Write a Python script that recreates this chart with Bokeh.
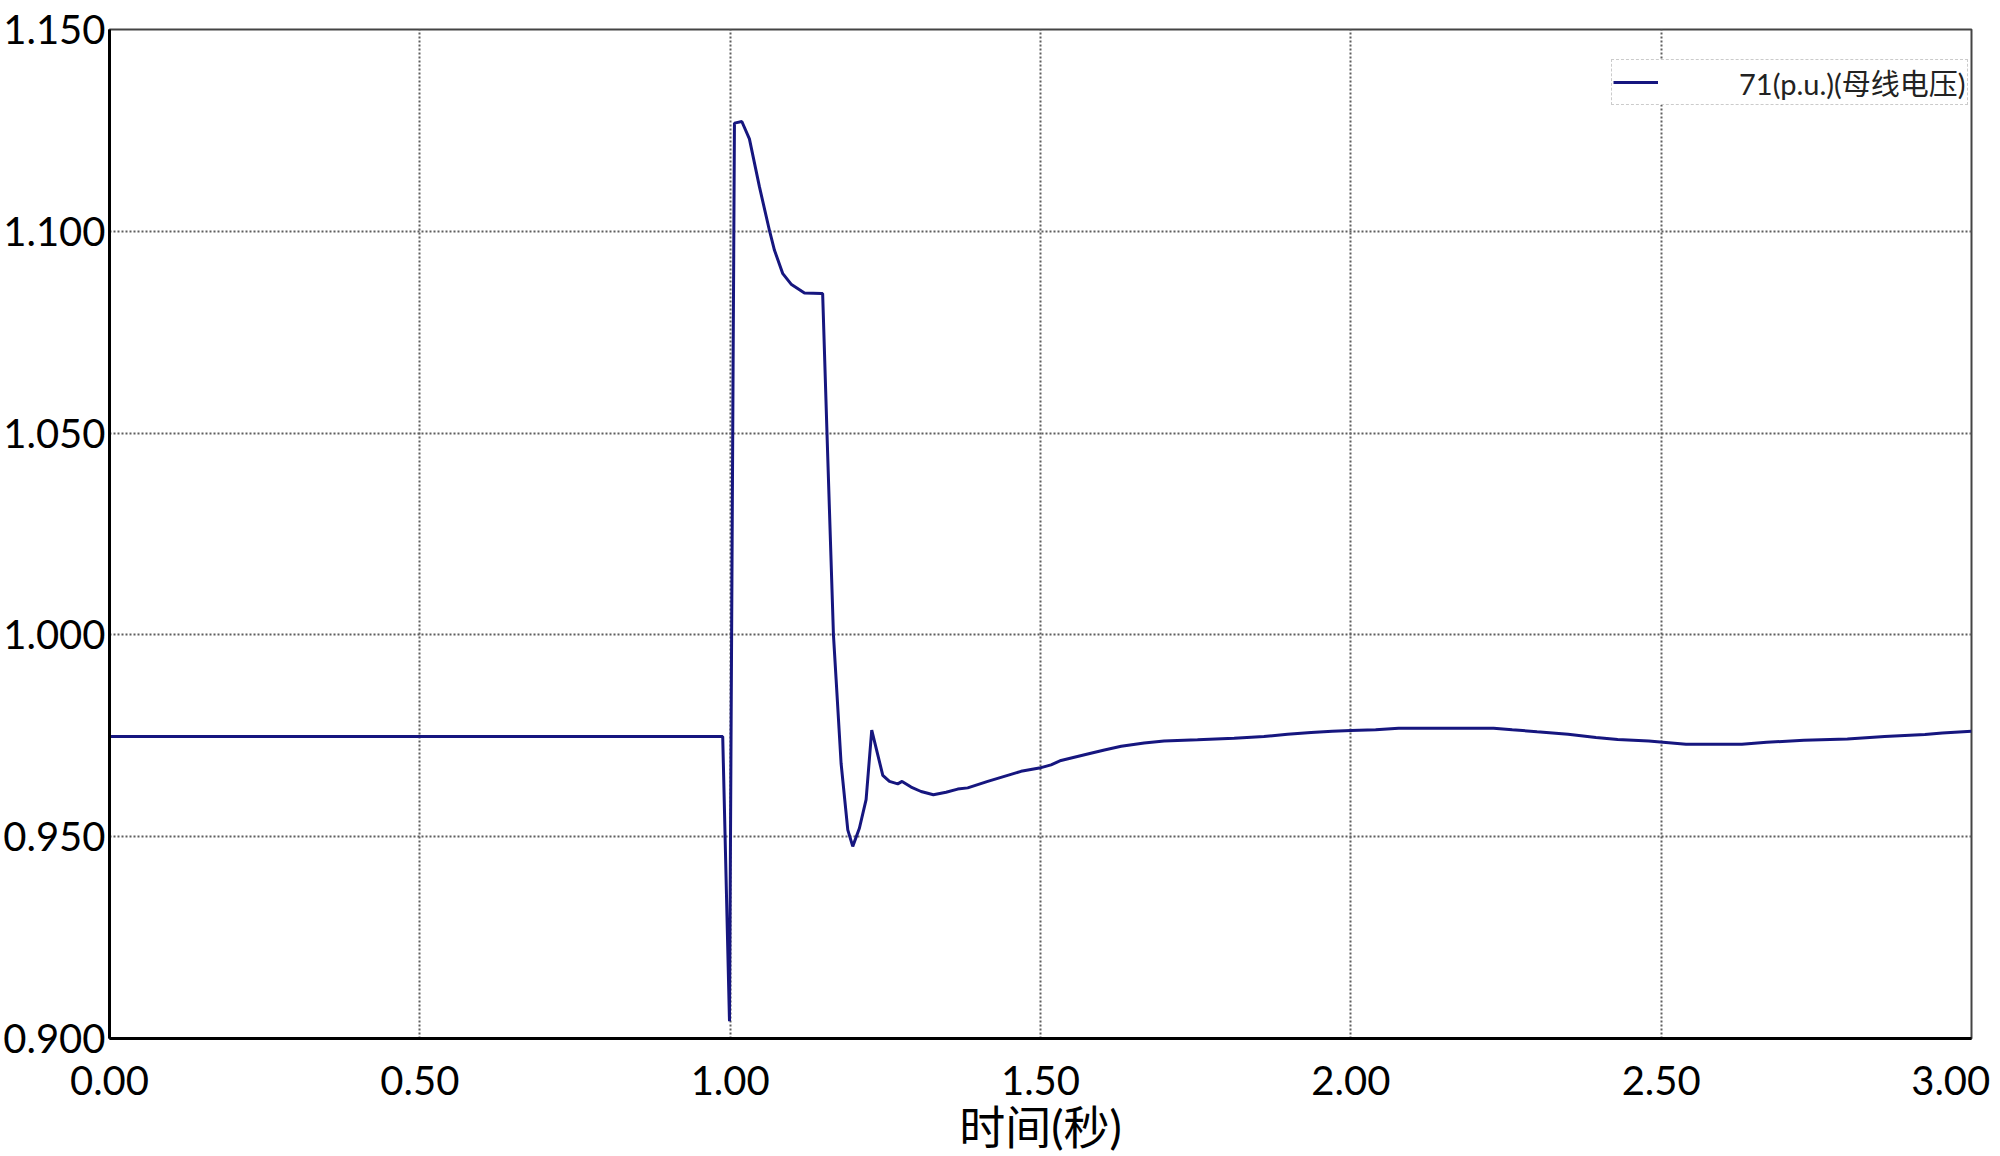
from bokeh.plotting import figure
from bokeh.models import FixedTicker, NumeralTickFormatter, Legend, LegendItem, Range1d
from bokeh.embed import file_html
from bokeh.resources import INLINE

# ---- data ----
time_s = [0.0, 0.988, 0.9989, 1.0069, 1.0188, 1.031, 1.0472, 1.0633, 1.0714, 1.0848,
          1.0982, 1.1197, 1.1475, 1.149, 1.156, 1.1664, 1.1707, 1.1787, 1.1895, 1.1975,
          1.2082, 1.219, 1.2281, 1.2459, 1.2566, 1.270, 1.277, 1.2915, 1.3076, 1.3274,
          1.3478, 1.3666, 1.3827, 1.415, 1.4686, 1.498, 1.517, 1.533, 1.576, 1.603,
          1.630, 1.667, 1.699, 1.753, 1.812, 1.860, 1.898, 1.936, 1.97, 2.0,
          2.04, 2.077, 2.230, 2.26, 2.30, 2.35, 2.395, 2.43, 2.48, 2.54,
          2.63, 2.67, 2.73, 2.80, 2.86, 2.925, 2.953, 3.0]
voltage_pu = [0.9748, 0.9748, 0.9043, 1.1268, 1.1272, 1.1229, 1.1110, 1.1002, 1.0953, 1.0895,
              1.0869, 1.0847, 1.0846, 1.0846, 1.0500, 1.0000, 0.9890, 0.9682, 0.9517, 0.9476,
              0.9521, 0.9592, 0.9764, 0.9652, 0.9637, 0.9631, 0.9637, 0.9623, 0.9612, 0.9604,
              0.9610, 0.9618, 0.9621, 0.9637, 0.9662, 0.9670, 0.9678, 0.9689, 0.9705, 0.9715,
              0.9724, 0.9732, 0.9737, 0.9740, 0.9744, 0.9748, 0.9754, 0.9758, 0.9761, 0.9763,
              0.9765, 0.9769, 0.9769, 0.9765, 0.9760, 0.9754, 0.9746, 0.9741, 0.9737, 0.9729,
              0.9729, 0.9734, 0.9739, 0.9742, 0.9748, 0.9753, 0.9757, 0.9761]
x_ticks = [0.0, 0.5, 1.0, 1.5, 2.0, 2.5, 3.0]
y_ticks = [0.90, 0.95, 1.00, 1.05, 1.10, 1.15]
x_label = "时间(秒)"
series_label = "71(p.u.)(母线电压)"

NUM_FONT = "Lato"
CJK_FONT = "Lato, Noto Sans CJK SC"

p = figure(width=2000, height=1156,
           x_range=Range1d(x_ticks[0], x_ticks[-1]),
           y_range=Range1d(y_ticks[0], y_ticks[-1]),
           output_backend="svg", toolbar_location=None,
           min_border_left=108, min_border_right=29,
           min_border_top=29, min_border_bottom=117)
p.background_fill_color = "white"
p.border_fill_color = "white"
p.outline_line_color = "#444444"
p.outline_line_width = 2

r = p.line(time_s, voltage_pu, line_color="#16167f", line_width=3)

# axes
for ax in (p.xaxis[0], p.yaxis[0]):
    ax.axis_line_color = "black"
    ax.axis_line_width = 3
    ax.major_tick_in = 0
    ax.major_tick_out = 0
    ax.minor_tick_in = 0
    ax.minor_tick_out = 0
    ax.major_label_text_font = NUM_FONT
    ax.major_label_text_font_size = "40px"
    ax.major_label_text_color = "black"

p.xaxis.ticker = FixedTicker(ticks=x_ticks)
p.yaxis.ticker = FixedTicker(ticks=y_ticks)
p.xaxis.formatter = NumeralTickFormatter(format="0.00")
p.yaxis.formatter = NumeralTickFormatter(format="0.000")
# the last label sits against the right edge: pad it with a no-break space so it stays visible
p.xaxis.major_label_overrides = {x_ticks[-1]: "%.2f\u00a0" % x_ticks[-1]}
p.xaxis.major_label_standoff = 17
p.yaxis.major_label_standoff = 4

p.xaxis.axis_label = x_label
p.xaxis.axis_label_text_font = CJK_FONT
p.xaxis.axis_label_text_font_size = "46px"
p.xaxis.axis_label_text_font_style = "normal"
p.xaxis.axis_label_text_color = "black"
p.xaxis.axis_label_standoff = -8

# grid
for g in (p.xgrid[0], p.ygrid[0]):
    g.grid_line_color = "#5e5e5e"
    g.grid_line_dash = "2 2"
    g.grid_line_width = 2
p.xgrid.ticker = FixedTicker(ticks=x_ticks)
p.ygrid.ticker = FixedTicker(ticks=y_ticks)

legend = Legend(items=[LegendItem(label=series_label, renderers=[r])],
                location=(1502, 933), margin=0, padding=1, spacing=0,
                glyph_width=45, glyph_height=20, label_standoff=81,
                label_text_font=CJK_FONT, label_text_font_size="29px",
                label_text_color="#222222", label_height=20,
                border_line_color="#999999", border_line_dash="1 1", border_line_width=1.5,
                background_fill_color="white", background_fill_alpha=1.0)
p.add_layout(legend)

open("out.html", "w").write(file_html(p, INLINE))
